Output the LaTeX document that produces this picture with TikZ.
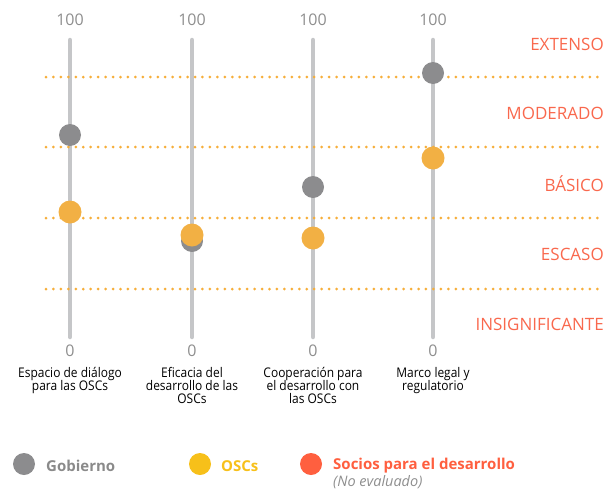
\documentclass[tikz,border=0pt]{standalone}
\usepackage{fontspec}
\setmainfont{Open Sans}
\newfontfamily\condfont[FakeStretch=0.9]{Open Sans}
\definecolor{barc}{HTML}{C5C6C8}
\definecolor{gdot}{HTML}{8C8C8E}
\definecolor{ydot}{HTML}{F2B044}
\definecolor{dotl}{HTML}{F6AE3A}
\definecolor{lvl}{HTML}{F9684D}
\definecolor{numc}{HTML}{8E8E8E}
\definecolor{leggray}{HTML}{8A8A8A}
\definecolor{legyel}{HTML}{F7C01A}
\definecolor{legred}{HTML}{FF5F3F}
\begin{document}
\begin{tikzpicture}[x=1pt,y=-1pt,
  bar/.style={draw=barc,line width=4.5pt,line cap=round},
  guide/.style={draw=dotl,line width=3pt,line cap=round,dash pattern=on 0pt off 7.45pt},
  gov/.style={circle,fill=gdot,minimum size=22pt,inner sep=0pt},
  osc/.style={circle,fill=ydot,minimum size=23pt,inner sep=0pt},
  num/.style={text=numc,font=\fontsize{16}{18}\selectfont,inner sep=0pt},
  level/.style={text=lvl,font=\fontsize{17}{19}\selectfont,anchor=east,inner sep=0pt},
  cat/.style={align=center,font=\condfont\fontsize{13.3}{13.3}\selectfont,anchor=north,inner sep=0pt},
  legdot/.style={circle,minimum size=22pt,inner sep=0pt},
  legtxt/.style={font=\bfseries\fontsize{15}{17}\selectfont,anchor=west,inner sep=0pt}]
\useasboundingbox (0,0) rectangle (615,490);
% guide lines
\coordinate (g1a) at (46,77); \coordinate (g1b) at (604,77);
\coordinate (g2a) at (46,147); \coordinate (g2b) at (604,147);
\coordinate (g3a) at (46,218); \coordinate (g3b) at (604,218);
\coordinate (g4a) at (46,289); \coordinate (g4b) at (604,289);
% bars
\foreach \i/\x in {1/70,2/192,3/313,4/433}{
  \coordinate (t\i) at (\x,40);
  \coordinate (b\i) at (\x,337);
  \node[num] (top\i) at (\x,20) {100};
  \node[num] (zero\i) at (\x,351) {0};
}
\foreach \i in {1,2,3,4}{\draw[bar] (t\i) -- (b\i);}
\foreach \i in {1,2,3,4}{\draw[guide] (g\i a) -- (g\i b);}
% levels
\node[level] (lv1) at (604,44) {EXTENSO};
\node[level] (lv2) at (604,113) {MODERADO};
\node[level] (lv3) at (604,184) {BÁSICO};
\node[level] (lv4) at (604,254) {ESCASO};
\node[level] (lv5) at (604,324) {INSIGNIFICANTE};
% dots
\node[gov] (d1g) at (70,135) {};
\node[osc] (d1o) at (70,212) {};
\node[gov] (d2g) at (192,241) {};
\node[osc] (d2o) at (192,235) {};
\node[gov] (d3g) at (313,187) {};
\node[osc] (d3o) at (313,238) {};
\node[gov] (d4g) at (433,73) {};
\node[osc] (d4o) at (433,158) {};
% categories
\node[cat] (c1) at (70,367) {Espacio de diálogo\\para las OSCs};
\node[cat] (c2) at (192,367) {Eficacia del\\desarrollo de las\\OSCs};
\node[cat] (c3) at (313,367) {Cooperación para\\el desarrollo con\\las OSCs};
\node[cat] (c4) at (433,367) {Marco legal y\\regulatorio};
% legend
\node[legdot,fill=gdot] (l1) at (24,464) {};
\node[legtxt,text=leggray] (l1t) at (46,466) {Gobierno};
\node[legdot,fill=legyel] (l2) at (200,464) {};
\node[legtxt,text=legyel] (l2t) at (221,466) {OSCs};
\node[legdot,fill=legred] (l3) at (311,464) {};
\node[legtxt,text=legred] (l3t) at (333,466) {Socios para el desarrollo};
\node[anchor=west,inner sep=0pt,text=numc,font=\itshape\fontsize{14.5}{16}\selectfont] (l3n) at (333,482.5) {(No evaluado)};
\end{tikzpicture}
\end{document}
